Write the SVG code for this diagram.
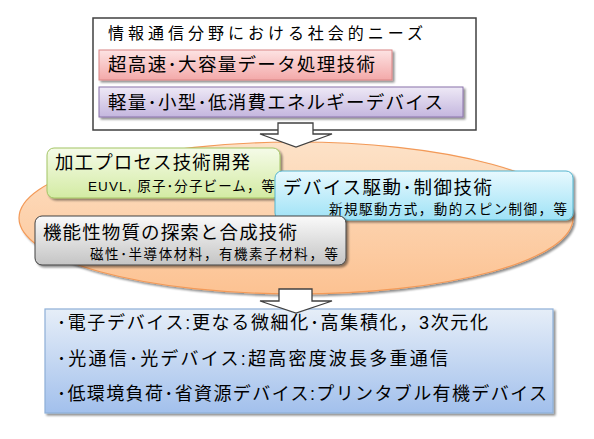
<svg xmlns="http://www.w3.org/2000/svg" width="594" height="439" viewBox="0 0 594 439">
<defs>
<linearGradient id="gPink" x1="0" y1="0" x2="0" y2="1"><stop offset="0" stop-color="#fde3e3"/><stop offset="1" stop-color="#f3a9a9"/></linearGradient>
<linearGradient id="gPurple" x1="0" y1="0" x2="0" y2="1"><stop offset="0" stop-color="#eee9f6"/><stop offset="1" stop-color="#c4b6de"/></linearGradient>
<linearGradient id="gGreen" x1="0" y1="0" x2="0" y2="1"><stop offset="0" stop-color="#f5fbe8"/><stop offset="1" stop-color="#d3eba3"/></linearGradient>
<linearGradient id="gBlue" x1="0" y1="0" x2="0" y2="1"><stop offset="0" stop-color="#e8f9fe"/><stop offset="1" stop-color="#9ee2f6"/></linearGradient>
<linearGradient id="gGray" x1="0" y1="0" x2="0" y2="1"><stop offset="0" stop-color="#fafafa"/><stop offset="1" stop-color="#c4c4c4"/></linearGradient>
<linearGradient id="gOut" x1="0" y1="0" x2="0" y2="1"><stop offset="0" stop-color="#e6eef8"/><stop offset="1" stop-color="#a2c0ec"/></linearGradient>
<linearGradient id="gEll" x1="0" y1="0" x2="0" y2="1"><stop offset="0" stop-color="#fde2c8"/><stop offset="1" stop-color="#fcc292"/></linearGradient>
<filter id="sh" x="-5%" y="-10%" width="115%" height="130%">
<feOffset in="SourceAlpha" dx="2" dy="2" result="o"/>
<feGaussianBlur in="o" stdDeviation="1" result="b"/>
<feComponentTransfer in="b" result="c"><feFuncA type="linear" slope="0.45"/></feComponentTransfer>
<feMerge><feMergeNode in="c"/><feMergeNode in="SourceGraphic"/></feMerge>
</filter>
</defs>
<style>
text{font-family:"Liberation Sans","Noto Sans CJK JP",sans-serif;fill:#000}
.h{font-size:18.5px}
.t{font-size:16px}
.s{font-size:13.5px}
.b{font-size:18px}
.arrow{fill:#fff;stroke:#404040;stroke-width:1.3}
</style>

<g id="needs">
<rect x="93" y="18" width="383" height="112" fill="#fff" stroke="#404040" stroke-width="1.5"/>
<text class="t" x="108" y="39" textLength="315" lengthAdjust="spacing">情報通信分野における社会的ニーズ</text>
</g>
<g id="need-speed">
<rect x="99" y="50" width="293" height="30" fill="url(#gPink)" stroke="#d98585" stroke-width="1" filter="url(#sh)"/>
<text class="h" x="108" y="71" textLength="267" lengthAdjust="spacing">超高速･大容量データ処理技術</text>
</g>
<g id="need-lowpower">
<rect x="99" y="87" width="364" height="30" fill="url(#gPurple)" stroke="#8a72aa" stroke-width="1" filter="url(#sh)"/>
<text class="h" x="108" y="109" textLength="335" lengthAdjust="spacing">軽量･小型･低消費エネルギーデバイス</text>
</g>

<g id="core">
<ellipse cx="296" cy="218" rx="277" ry="76" fill="url(#gEll)" stroke="#f39a58" stroke-width="1.2" filter="url(#sh)"/>
</g>

<g id="process">
<rect x="47" y="148" width="233" height="50" rx="7" fill="url(#gGreen)" stroke="#a3c465" stroke-width="1" filter="url(#sh)"/>
<text class="h" x="55" y="169" textLength="195" lengthAdjust="spacing">加工プロセス技術開発</text>
<text class="s" x="88" y="191" textLength="187" lengthAdjust="spacing">EUVL, 原子･分子ビーム，等</text>
</g>

<g id="device-control">
<rect x="275" y="171" width="298" height="49" rx="7" fill="url(#gBlue)" stroke="#55b5cf" stroke-width="1" filter="url(#sh)"/>
<text class="h" x="283" y="194" textLength="209" lengthAdjust="spacing">デバイス駆動･制御技術</text>
<text class="s" x="329" y="214" textLength="238" lengthAdjust="spacing">新規駆動方式，動的スピン制御，等</text>
</g>

<g id="materials">
<rect x="35" y="216" width="311" height="49" rx="7" fill="url(#gGray)" stroke="#404040" stroke-width="1" filter="url(#sh)"/>
<text class="h" x="43" y="239" textLength="254" lengthAdjust="spacing">機能性物質の探索と合成技術</text>
<text class="s" x="90" y="259" textLength="248" lengthAdjust="spacing">磁性･半導体材料，有機素子材料，等</text>
</g>

<g id="outcomes">
<rect x="45" y="309" width="508" height="104" fill="url(#gOut)" stroke="#8eb0d8" stroke-width="1.2" filter="url(#sh)"/>
<text class="b" x="57" y="329" textLength="431" lengthAdjust="spacing">･電子デバイス:更なる微細化･高集積化，3次元化</text>
<text class="b" x="57" y="365" textLength="391" lengthAdjust="spacing">･光通信･光デバイス:超高密度波長多重通信</text>
<text class="b" x="57" y="400" textLength="490" lengthAdjust="spacing">･低環境負荷･省資源デバイス:プリンタブル有機デバイス</text>
</g>

<g id="connectors">
<polygon class="arrow" points="278,123 313,123 313,134 332,134 296,147 260,134 278,134"/>
<polygon class="arrow" points="279,289 312,289 312,301 332,301 296,313 260,301 279,301"/>
</g>
</svg>
